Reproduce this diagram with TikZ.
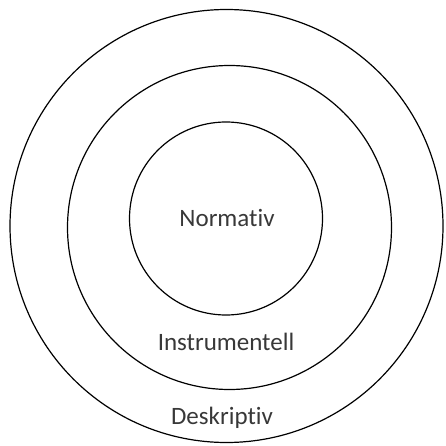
\documentclass[tikz,border=0pt]{standalone}
\usepackage{fontspec}
\setmainfont{Carlito}[Ligatures={NoCommon}]
\usetikzlibrary{positioning}
\definecolor{labelgray}{RGB}{56,56,56}

\begin{document}
\begin{tikzpicture}[
  x=1pt, y=-1pt,
  ring/.style={draw, circle, line width=1.2pt, inner sep=0pt},
  lbl/.style={font=\fontsize{25}{28}\selectfont, text=labelgray, inner sep=0pt}
]
  \useasboundingbox (0,0) rectangle (445,446);

  \node[ring, minimum size=433pt] (desk) at (226.5,226) {};
  \node[ring, minimum size=324pt] (instr) at (229.5,227.5) {};
  \node[ring, minimum size=193pt] (norm) at (226,218.5) {};

  \node[lbl] (normtxt)  at (227,218)  {Normativ};
  \node[lbl] (instrtxt) at (226,342)  {Instrumentell};
  \node[lbl] (desktxt)  at (222,418)  {Deskriptiv};
\end{tikzpicture}
\end{document}
